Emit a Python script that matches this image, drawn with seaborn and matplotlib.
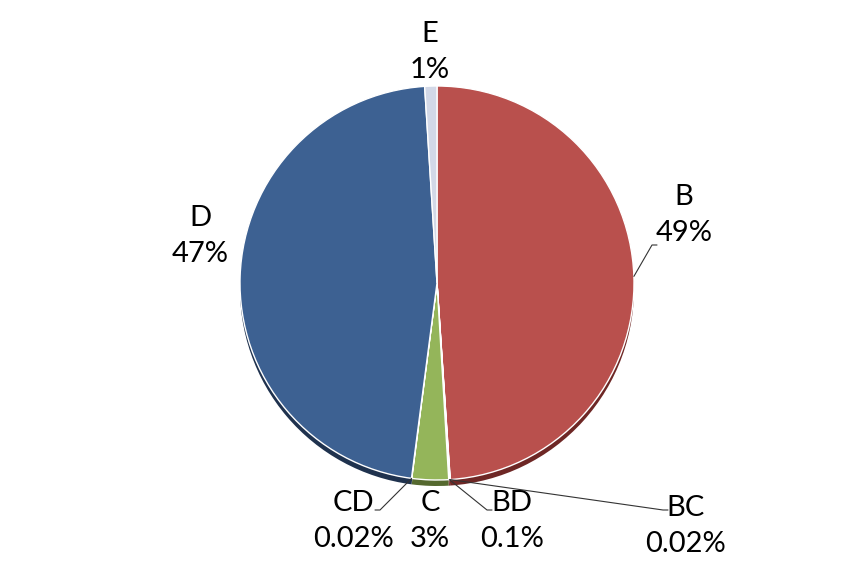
import matplotlib.pyplot as plt
import numpy as np
import seaborn as sns

# data
labels = ['B', 'BC', 'BD', 'C', 'CD', 'D', 'E']
shares = [49, 0.02, 0.1, 3, 0.02, 47, 1]
pct_text = ['49%', '0.02%', '0.1%', '3%', '0.02%', '47%', '1%']

# styling
colors = ['#B9504D', '#B9504D', '#B9504D', '#94B55A', '#94B55A', '#3D6192', '#D2D8E7']
shadow = ['#6E2725', '#6E2725', '#6E2725', '#55692F', '#55692F', '#1F324E', '#8A90A0']

# label layout in pixel coords (text centre, leader elbow, leader end)
W, H = 865, 565
CX, CY, R = 437, 282, 197
label_pos = {
    'B': ((684, 215), (652, 245), (657, 245)),
    'BC': ((686, 526), (663, 510), (668, 510)),
    'BD': ((512, 521), (487, 510), (492, 510)),
    'C': ((430, 521), None, None),
    'CD': ((353, 521), (380, 510), (375, 510)),
    'D': ((200, 236), None, None),
    'E': ((430, 52), None, None),
}

sns.set_theme(style='white')
plt.rcParams['font.family'] = ['Lato', 'DejaVu Sans']

fig = plt.figure(figsize=(W / 100, H / 100), dpi=100)
ax = fig.add_axes([0, 0, 1, 1])

# 3d-ish rim shadow
ax.pie(shares, colors=shadow, startangle=90, counterclock=False,
       center=(CX, CY - 6), radius=R, wedgeprops=dict(linewidth=0))
wedges, _ = ax.pie(shares, colors=colors, startangle=90, counterclock=False,
                   center=(CX, CY), radius=R,
                   wedgeprops=dict(edgecolor='white', linewidth=1))

for w, lab, pct in zip(wedges, labels, pct_text):
    (tx, ty), elbow, end = label_pos[lab]
    ax.text(tx, H - ty, f'{lab}\n{pct}', ha='center', va='center',
            fontsize=21, linespacing=1.45, color='black')
    if elbow is not None:
        ang = np.deg2rad((w.theta1 + w.theta2) / 2)
        px, py = CX + R * np.cos(ang), CY + R * np.sin(ang)
        ax.plot([px, elbow[0], end[0]], [py, H - elbow[1], H - end[1]],
                color='#333333', lw=0.8)

ax.set_xlim(0, W)
ax.set_ylim(0, H)
ax.set_aspect('equal')
ax.axis('off')

plt.savefig('out.png', dpi=100)
plt.close()
